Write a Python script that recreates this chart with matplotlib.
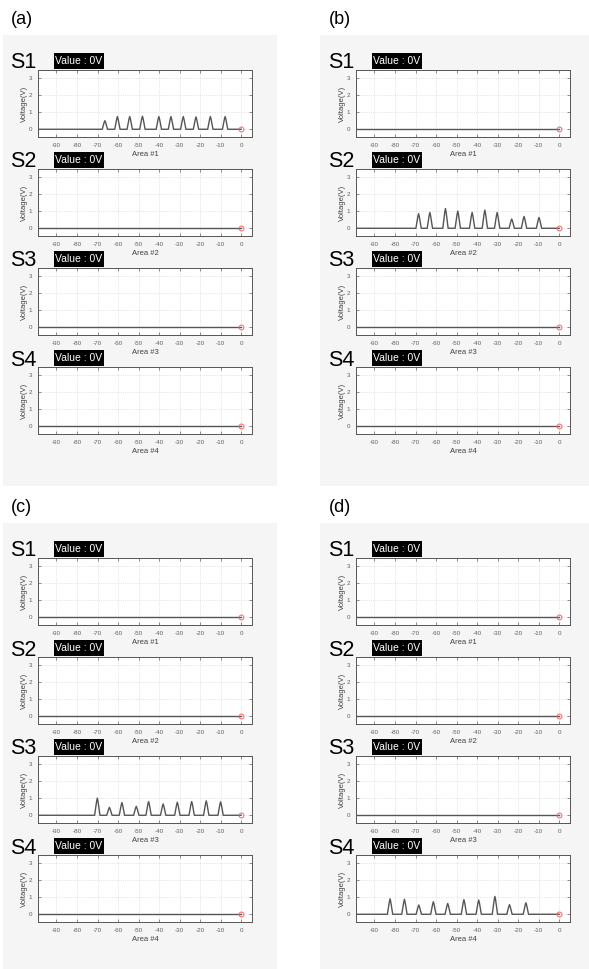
import numpy as np
import matplotlib.pyplot as plt
from matplotlib.patches import Rectangle

plt.rcParams['font.family'] = ['Liberation Sans', 'DejaVu Sans']
plt.rcParams['axes.unicode_minus'] = False

W, H = 589, 969

PANELS = ['(a)', '(b)', '(c)', '(d)']
SENSORS = ['S1', 'S2', 'S3', 'S4']
AREAS = ['Area #1', 'Area #2', 'Area #3', 'Area #4']
VALUE_TEXT = 'Value : 0V'
X_TICKS = [-90, -80, -70, -60, -50, -40, -30, -20, -10, 0]
Y_TICKS = [0, 1, 2, 3]

# which sensor shows the pulse train in each panel
ACTIVE = [0, 1, 2, 3]

PEAK_POS = [
    [-66.4, -60.3, -54.3, -48.1, -40.1, -34.2, -28.2, -22.0, -15.0, -7.8],
    [-68.5, -63.0, -55.4, -49.4, -42.4, -36.2, -30.2, -23.1, -17.1, -9.8],
    [-70.1, -64.2, -58.1, -51.1, -45.1, -38.0, -31.1, -24.1, -17.0, -10.0],
    [-82.4, -75.4, -68.4, -61.3, -54.3, -46.4, -39.2, -31.3, -24.2, -16.2],
]
PEAK_H = [
    [0.50, 0.74, 0.74, 0.76, 0.74, 0.74, 0.74, 0.72, 0.74, 0.74],
    [0.85, 0.92, 1.15, 1.00, 0.92, 1.06, 0.92, 0.54, 0.69, 0.63],
    [1.00, 0.46, 0.74, 0.52, 0.80, 0.66, 0.76, 0.80, 0.84, 0.78],
    [0.90, 0.87, 0.54, 0.73, 0.63, 0.85, 0.83, 1.04, 0.56, 0.67],
]
HALF_W = 1.3


def fx(x):
    return x / W


def fy(y):
    return 1 - y / H


def trace(pos, hts):
    xs = [-99.0]
    ys = [0.0]
    for p, h in zip(pos, hts):
        xs += [p - HALF_W, p - 0.35, p, p + 0.35, p + HALF_W]
        ys += [0, h * 0.8, h, h * 0.8, 0]
    xs.append(0.0)
    ys.append(0.0)
    return xs, ys


fig = plt.figure(figsize=(W / 100, H / 100), dpi=100)

col_dx = [0, 318, 0, 318]
row_dy = [0, 0, 488, 488]
gray_x = [(3, 277), (320, 595), (3, 277), (320, 595)]

for k in range(4):
    dx, dy = col_dx[k], row_dy[k]
    gx0, gx1 = gray_x[k]
    fig.patches.append(Rectangle((fx(gx0), fy(dy + 486)), (gx1 - gx0) / W, 451 / H,
                                 transform=fig.transFigure, facecolor='#f5f5f5',
                                 edgecolor='none', zorder=-5))
    fig.text(fx(dx + 11), fy(dy + 19), PANELS[k], fontsize=13, va='center', ha='left')

    for i in range(4):
        top = dy + 70 + i * 99
        ax = fig.add_axes([fx(dx + 38), fy(top + 67), 214 / W, 67 / H])
        ax.set_facecolor('white')
        if i == ACTIVE[k]:
            xs, ys = trace(PEAK_POS[k], PEAK_H[k])
        else:
            xs, ys = [-99.0, 0.0], [0.0, 0.0]
        ax.plot(xs, ys, color='#555555', lw=1.0, zorder=3)
        ax.plot([0], [0], 'o', mfc='none', mec='#ff6060', ms=3.5, mew=0.7, zorder=4)
        ax.set_xlim(-99, 5.3)
        ax.set_ylim(-0.45, 3.45)
        ax.set_xticks(X_TICKS)
        ax.set_yticks(Y_TICKS)
        ax.grid(True, ls=':', color='#cfcfcf', lw=0.5)
        ax.tick_params(direction='in', top=True, right=True, length=2, width=0.5,
                       colors='#606060', labelsize=4.5, pad=4)
        for s in ax.spines.values():
            s.set_color('#555555')
            s.set_linewidth(0.7)
        ax.set_xlabel(AREAS[i], fontsize=5.5, color='#404040', labelpad=2.5)
        ax.set_ylabel('Voltage(V)', fontsize=5.5, color='#404040', labelpad=1)

        fig.text(fx(dx + 10), fy(top - 7), SENSORS[i], fontsize=15.5, va='center', ha='left')
        fig.patches.append(Rectangle((fx(dx + 54), fy(top - 1)), 50 / W, 16 / H,
                                     transform=fig.transFigure, facecolor='black',
                                     edgecolor='none', zorder=5))
        fig.text(fx(dx + 79), fy(top - 9), VALUE_TEXT, fontsize=7.5, color='white',
                 va='center', ha='center', zorder=6)

fig.savefig('out.png', dpi=100)
